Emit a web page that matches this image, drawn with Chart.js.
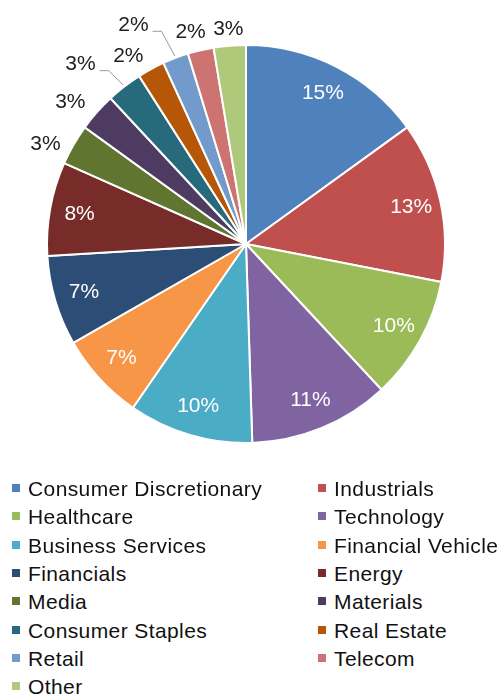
<!DOCTYPE html>
<html>
<head>
<meta charset="utf-8">
<script src="https://cdn.jsdelivr.net/npm/chart.js@4.4.1/dist/chart.umd.min.js"></script>
<style>
  body { margin: 0; background: #fff; font-family: "Liberation Sans", Arial, sans-serif; }
  #wrap { position: relative; width: 504px; height: 694px; }
  #pie { position: absolute; left: 0; top: 0; }
  #legend { position: absolute; left: 0; top: 476px; width: 504px; }
  .item { position: absolute; font-size: 21px; letter-spacing: 0.4px; color: #111; white-space: nowrap; line-height: 26px; }
  .item span.box { display: inline-block; width: 8px; height: 8px; margin-right: 8px; vertical-align: 4px; }
</style>
</head>
<body>
<div id="wrap">
  <canvas id="pie" width="504" height="488"></canvas>
  <div id="legend"></div>
</div>
<script>
const sectors = ["Consumer Discretionary", "Industrials", "Healthcare", "Technology",
  "Business Services", "Financial Vehicle", "Financials", "Energy", "Media", "Materials",
  "Consumer Staples", "Real Estate", "Retail", "Telecom", "Other"];
const shares = [15.0, 13.0, 10.0, 11.4, 10.1, 7.1, 7.3, 7.6, 3.3, 3.1, 2.9, 2.2, 2.1, 2.1, 2.6];
const colors = ["#4F81BD", "#C0504D", "#9BBB59", "#8064A2", "#4BACC6", "#F79646", "#2C4D75",
  "#772C2A", "#5F7530", "#4D3B62", "#276A7C", "#B65708", "#729ACA", "#CD7371", "#AFC97A"];

// outside label tweaks for the thin slices (angle shift in degrees, radius, leader line)
const outsideTweak = {
  "Media": { shift: -3.5, r: 224 },
  "Materials": { shift: -2.5, r: 226 },
  "Consumer Staples": { shift: -5, r: 244, leader: true },
  "Real Estate": { shift: -3.5, r: 222 },
  "Retail": { shift: -6.5, r: 246, leader: true },
  "Telecom": { shift: -1.5, r: 219 },
  "Other": { shift: 0, r: 216 }
};

const pctLabels = {
  id: "pctLabels",
  afterDatasetsDraw(chart) {
    const ctx = chart.ctx;
    const meta = chart.getDatasetMeta(0);
    const total = shares.reduce((a, b) => a + b, 0);
    ctx.save();
    ctx.textAlign = "center";
    ctx.textBaseline = "middle";
    ctx.font = "21px 'Liberation Sans', Arial, sans-serif";
    meta.data.forEach((arc, i) => {
      const p = arc.getProps(["x", "y", "startAngle", "endAngle", "outerRadius"], true);
      const mid = (p.startAngle + p.endAngle) / 2;
      const text = Math.round(shares[i] / total * 100) + "%";
      const tw = outsideTweak[sectors[i]];
      if (!tw) {
        const r = p.outerRadius * 0.85;
        ctx.fillStyle = "#fff";
        ctx.fillText(text, p.x + Math.cos(mid) * r, p.y + Math.sin(mid) * r);
        return;
      }
      const a = mid + tw.shift * Math.PI / 180;
      const lx = p.x + Math.cos(a) * tw.r;
      const ly = p.y + Math.sin(a) * tw.r;
      ctx.fillStyle = "#222";
      ctx.fillText(text, lx, ly);
      if (tw.leader) {
        const right = lx + ctx.measureText(text).width / 2;
        ctx.strokeStyle = "#999";
        ctx.lineWidth = 1;
        ctx.beginPath();
        ctx.moveTo(p.x + Math.cos(mid) * (p.outerRadius + 2), p.y + Math.sin(mid) * (p.outerRadius + 2));
        ctx.lineTo(right + 13, ly + 6);
        ctx.lineTo(right + 4, ly + 6);
        ctx.stroke();
      }
    });
    ctx.restore();
  }
};

new Chart(document.getElementById("pie"), {
  type: "pie",
  data: {
    labels: sectors,
    datasets: [{
      data: shares,
      backgroundColor: colors,
      borderColor: "#fff",
      borderWidth: 2
    }]
  },
  options: {
    responsive: false,
    animation: false,
    layout: { padding: { left: 46, right: 58, top: 44, bottom: 44 } },
    plugins: { legend: { display: false }, tooltip: { enabled: false } }
  },
  plugins: [pctLabels]
});

// two column legend
const legend = document.getElementById("legend");
sectors.forEach((name, i) => {
  const el = document.createElement("div");
  el.className = "item";
  el.style.left = (i % 2 === 0 ? 12 : 318) + "px";
  el.style.top = (Math.floor(i / 2) * 28.3) + "px";
  el.innerHTML = '<span class="box" style="background:' + colors[i] + '"></span>' + name;
  legend.appendChild(el);
});
</script>
</body>
</html>
